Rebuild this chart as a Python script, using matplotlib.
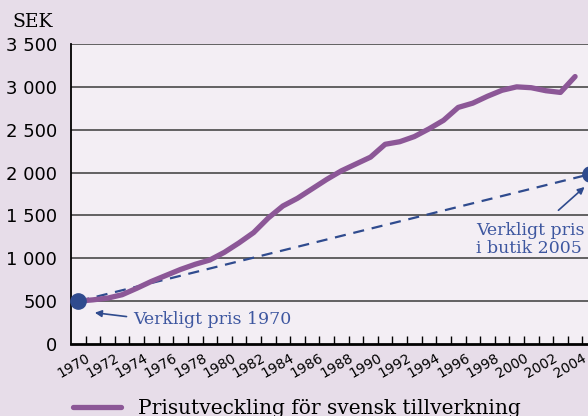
import numpy as np
import matplotlib
matplotlib.use('Agg')
import matplotlib.pyplot as plt
from matplotlib.transforms import ScaledTranslation

# price development for Swedish manufacturing, SEK
years = list(range(1970, 2005))
prices = [500, 515, 535, 575, 650, 730, 800, 870, 930, 980,
          1070, 1180, 1300, 1470, 1610, 1700, 1810, 1920, 2020, 2100,
          2180, 2330, 2360, 2420, 2510, 2610, 2760, 2810, 2890, 2960,
          3000, 2990, 2955, 2935, 3120]

real_years = [1970, 2005]
real_prices = [500, 1980]

yticks = [0, 500, 1000, 1500, 2000, 2500, 3000, 3500]
ytick_labels = ['0', '500', '1 000', '1 500', '2 000', '2 500', '3 000', '3 500']
xtick_years = list(range(1970, 2005, 2))

purple = '#8c5797'
blue = '#2f4b8e'
text_blue = '#3e57a0'
bg = '#e7dde9'
plot_bg = '#f3eef4'

W, H = 588, 416
fig = plt.figure(figsize=(W / 100, H / 100), dpi=100, facecolor=bg)
ax = fig.add_axes([71 / W, 72 / H, 526 / W, 300 / H], facecolor=plot_bg)

ax.set_xlim(1969.5, 2005.5)
ax.set_ylim(0, 3500)

for y in yticks[1:]:
    ax.axhline(y, color='#3a3a3a', lw=1.1, zorder=1)

ax.plot(real_years, real_prices, color=blue, lw=1.6, ls=(0, (5, 3.5)), zorder=2)
ax.plot(years, prices, color=purple, lw=3.8, solid_capstyle='round', zorder=3)
ax.plot(real_years, real_prices, 'o', color=blue, ms=11, zorder=4, clip_on=False)

for s in ['top', 'right']:
    ax.spines[s].set_visible(False)
ax.spines['left'].set_linewidth(1.3)
ax.spines['bottom'].set_linewidth(2)

ax.set_yticks(yticks)
ax.set_yticklabels(ytick_labels, fontsize=13, family='DejaVu Sans')
ax.tick_params(axis='y', length=0, pad=10)

ax.set_xticks(xtick_years)
ax.set_xticklabels([str(y) for y in xtick_years], rotation=30, ha='right',
                   rotation_mode='anchor', fontsize=10, family='DejaVu Sans')
ax.set_xticks(np.arange(1970.5, 2005, 1), minor=True)
ax.tick_params(axis='x', which='major', length=0, pad=5)
ax.tick_params(axis='x', which='minor', direction='in', length=6, width=1)
shift = ScaledTranslation(7 / 100, 0, fig.dpi_scale_trans)
for lab in ax.get_xticklabels():
    lab.set_transform(lab.get_transform() + shift)

fig.text(12 / W, 1 - 22 / H, 'SEK', fontsize=13.5, family='DejaVu Serif', va='center')

ax.text(1973.75, 236, 'Verkligt pris 1970', color=text_blue, fontsize=12.5,
        family='DejaVu Serif', va='baseline')
ax.annotate('', xy=(1971.13, 365), xytext=(1973.3, 320),
            arrowprops=dict(arrowstyle='-|>', color=blue, lw=1.2,
                            shrinkA=0, shrinkB=0, mutation_scale=10))
ax.annotate('', xy=(2004.65, 1832), xytext=(2002.86, 1560),
            arrowprops=dict(arrowstyle='-|>', color=blue, lw=1.2,
                            shrinkA=0, shrinkB=0, mutation_scale=10))
ax.text(1997.2, 1062, 'Verkligt pris\ni butik 2005', color=text_blue,
        fontsize=12.5, family='DejaVu Serif', va='baseline', linespacing=1.1)

fig.add_artist(plt.Line2D([73 / W, 121 / W], [1 - 407 / H, 1 - 407 / H],
                          color=purple, lw=3.8, solid_capstyle='round'))
fig.text(138 / W, 1 - 414 / H, 'Prisutveckling för svensk tillverkning',
         fontsize=14.5, family='DejaVu Serif', va='baseline')

fig.savefig('out.png', dpi=100, facecolor=bg)
